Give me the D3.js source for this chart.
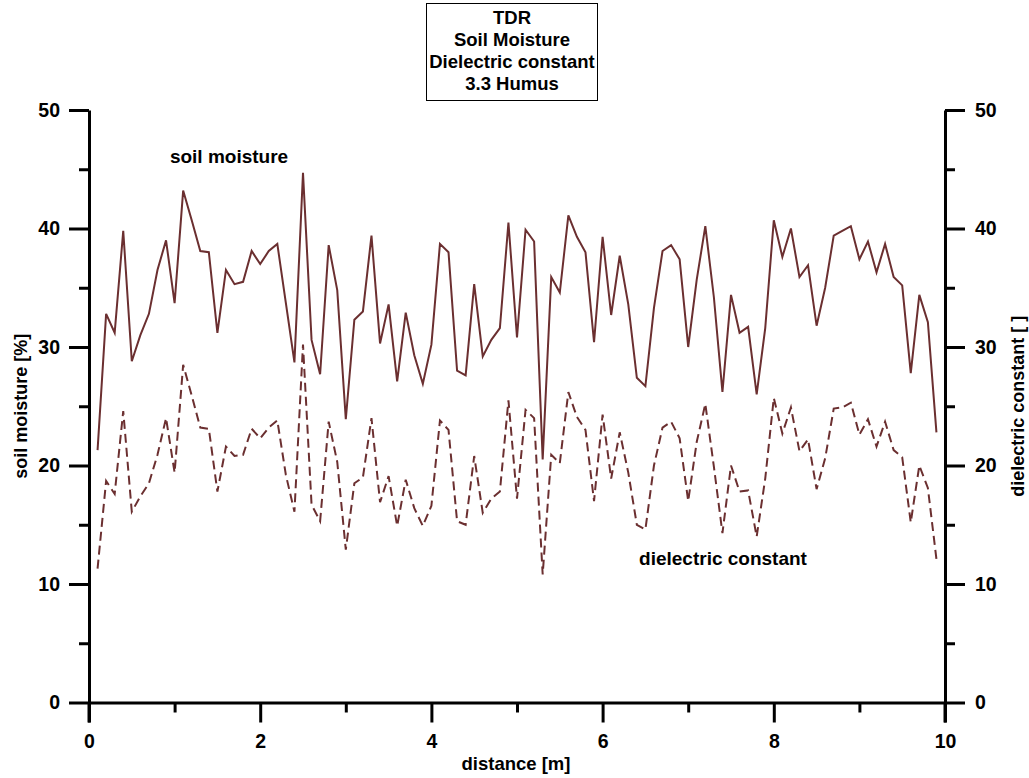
<!DOCTYPE html>
<html>
<head>
<meta charset="utf-8">
<script src="https://cdn.jsdelivr.net/npm/d3@7"></script>
<style>
  html, body { margin: 0; padding: 0; background: #fff; }
  svg text { font-family: "Liberation Sans", Arial, sans-serif; font-weight: bold; fill: #000; }
</style>
</head>
<body>
<svg id="chart" width="1029" height="778"></svg>
<script>
// Measurement positions along the transect [m]
const distance = d3.range(1, 100).map(i => +(i * 0.1).toFixed(1));

// Volumetric soil moisture [%]
const soilMoisture = [
  21.3, 32.8, 31.2, 39.8, 28.8, 31.0, 32.8, 36.5, 39.0, 33.7,
  43.2, 40.7, 38.1, 38.0, 31.2, 36.5, 35.3, 35.5, 38.1, 37.0,
  38.1, 38.7, 33.7, 28.7, 44.7, 30.6, 27.7, 38.6, 34.8, 23.9,
  32.3, 33.0, 39.4, 30.3, 33.6, 27.1, 32.9, 29.3, 26.9, 30.2,
  38.7, 38.0, 28.0, 27.6, 35.3, 29.2, 30.6, 31.6, 40.5, 30.8,
  39.9, 38.9, 20.5, 35.9, 34.6, 41.1, 39.3, 38.0, 30.4, 39.3,
  32.7, 37.7, 33.6, 27.4, 26.7, 33.3, 38.1, 38.6, 37.4, 30.0,
  35.7, 40.2, 34.2, 26.2, 34.4, 31.2, 31.7, 26.0, 31.6, 40.7,
  37.6, 40.0, 35.9, 36.9, 31.8, 35.0, 39.4, 39.8, 40.2, 37.4,
  38.9, 36.3, 38.7, 35.9, 35.2, 27.8, 34.4, 32.1, 22.8
];

// Dielectric constant [ ]
const dielectric = [
  11.3, 18.7, 17.6, 24.6, 16.1, 17.4, 18.5, 20.9, 24.0, 19.4,
  28.5, 25.9, 23.2, 23.1, 17.8, 21.6, 20.8, 20.9, 23.1, 22.3,
  23.2, 23.8, 19.2, 16.1, 30.2, 16.7, 15.3, 23.7, 20.3, 12.9,
  18.5, 19.0, 24.0, 16.9, 19.1, 14.9, 18.8, 16.4, 14.9, 16.6,
  23.8, 23.0, 15.3, 15.0, 20.8, 16.0, 17.2, 17.8, 25.5, 17.2,
  24.7, 24.0, 10.8, 20.9, 20.2, 26.2, 24.1, 23.0, 17.0, 24.3,
  18.9, 22.8, 19.4, 15.0, 14.6, 20.0, 23.2, 23.7, 22.3, 17.0,
  22.0, 25.2, 19.9, 14.3, 20.0, 17.8, 17.9, 14.0, 18.9, 25.7,
  22.7, 24.9, 21.2, 22.2, 18.0, 20.6, 24.8, 24.9, 25.3, 22.6,
  23.9, 21.6, 23.7, 21.3, 20.7, 15.2, 20.0, 18.1, 12.1
];

const xTicks = [0, 2, 4, 6, 8, 10];
const yTicks = [0, 10, 20, 30, 40, 50];
const titleLines = ["TDR", "Soil Moisture", "Dielectric constant", "3.3 Humus"];

const svg = d3.select("#chart");
const lineColor = "#6b2f30";

const plotLeft = 89, plotRight = 945, plotTop = 110, plotBottom = 702.5;

const x = d3.scaleLinear().domain([0, 10]).range([plotLeft, plotRight]);
const yL = d3.scaleLinear().domain([0, 50]).range([plotBottom, plotTop]);
const yR = d3.scaleLinear().domain([0, 50]).range([plotBottom, plotTop]);

// Title box
const tb = svg.append("g");
tb.append("rect")
  .attr("x", 426.5).attr("y", 3.5).attr("width", 171).attr("height", 97)
  .attr("fill", "#fff").attr("stroke", "#000").attr("stroke-width", 1);
tb.selectAll("text").data(titleLines).join("text")
  .attr("x", 512).attr("y", (d, i) => 23.5 + i * 22)
  .attr("text-anchor", "middle")
  .attr("font-size", "18.5px")
  .text(d => d);

// Axes: major ticks with labels, minor ticks in between
function styleAxis(g) {
  g.selectAll("path.domain").attr("stroke", "#000").attr("stroke-width", 3);
  g.selectAll(".tick line").attr("stroke", "#000").attr("stroke-width", 3);
  g.selectAll(".tick text").attr("font-size", "19.5px").attr("font-weight", "bold")
    .attr("font-family", "Liberation Sans, Arial, sans-serif").attr("fill", "#000");
}

// x axis
const gx = svg.append("g").attr("transform", `translate(0,${plotBottom})`);
gx.call(d3.axisBottom(x).tickValues(xTicks).tickSize(20).tickSizeOuter(0).tickPadding(12).tickFormat(d3.format("d")));
gx.append("g").call(d3.axisBottom(x).tickValues([1, 3, 5, 7, 9]).tickSize(10).tickFormat(""))
  .select("path.domain").remove();
styleAxis(gx);

// left y axis
const gyl = svg.append("g").attr("transform", `translate(${plotLeft},0)`);
gyl.call(d3.axisLeft(yL).tickValues(yTicks).tickSize(20).tickSizeOuter(0).tickPadding(9).tickFormat(d3.format("d")));
gyl.append("g").call(d3.axisLeft(yL).tickValues([5, 15, 25, 35, 45]).tickSize(10).tickFormat(""))
  .select("path.domain").remove();
styleAxis(gyl);
gyl.append("line").attr("x1", 0).attr("x2", 0).attr("y1", plotBottom).attr("y2", plotBottom + 20)
  .attr("stroke", "#000").attr("stroke-width", 3);

// right y axis
const gyr = svg.append("g").attr("transform", `translate(${plotRight},0)`);
gyr.call(d3.axisRight(yR).tickValues(yTicks).tickSize(20).tickSizeOuter(0).tickPadding(10).tickFormat(d3.format("d")));
gyr.append("g").call(d3.axisRight(yR).tickValues([5, 15, 25, 35, 45]).tickSize(10).tickFormat(""))
  .select("path.domain").remove();
styleAxis(gyr);
gyr.append("line").attr("x1", 0).attr("x2", 0).attr("y1", plotBottom).attr("y2", plotBottom + 20)
  .attr("stroke", "#000").attr("stroke-width", 3);

// Axis titles
svg.append("text").attr("x", 516).attr("y", 770).attr("text-anchor", "middle")
  .attr("font-size", "18.5px").text("distance [m]");
svg.append("text").attr("transform", `translate(27,${(plotTop + plotBottom) / 2}) rotate(-90)`)
  .attr("text-anchor", "middle").attr("font-size", "18px").text("soil moisture [%]");
svg.append("text").attr("transform", `translate(1024,${(plotTop + plotBottom) / 2}) rotate(-90)`)
  .attr("text-anchor", "middle").attr("font-size", "18px").text("dielectric constant [ ]");

// Series lines
const moistLine = d3.line().x((d, i) => x(distance[i])).y(d => yL(d));
const dielLine = d3.line().x((d, i) => x(distance[i])).y(d => yR(d));

svg.append("path").datum(soilMoisture)
  .attr("d", moistLine).attr("fill", "none")
  .attr("stroke", lineColor).attr("stroke-width", 2).attr("stroke-linejoin", "miter");

svg.append("path").datum(dielectric)
  .attr("d", dielLine).attr("fill", "none")
  .attr("stroke", lineColor).attr("stroke-width", 2)
  .attr("stroke-dasharray", "9,5");

// Series labels
svg.append("text").attr("x", 229).attr("y", 162.5).attr("text-anchor", "middle")
  .attr("font-size", "19px").text("soil moisture");
svg.append("text").attr("x", 723).attr("y", 564.5).attr("text-anchor", "middle")
  .attr("font-size", "19px").text("dielectric constant");
</script>
</body>
</html>
